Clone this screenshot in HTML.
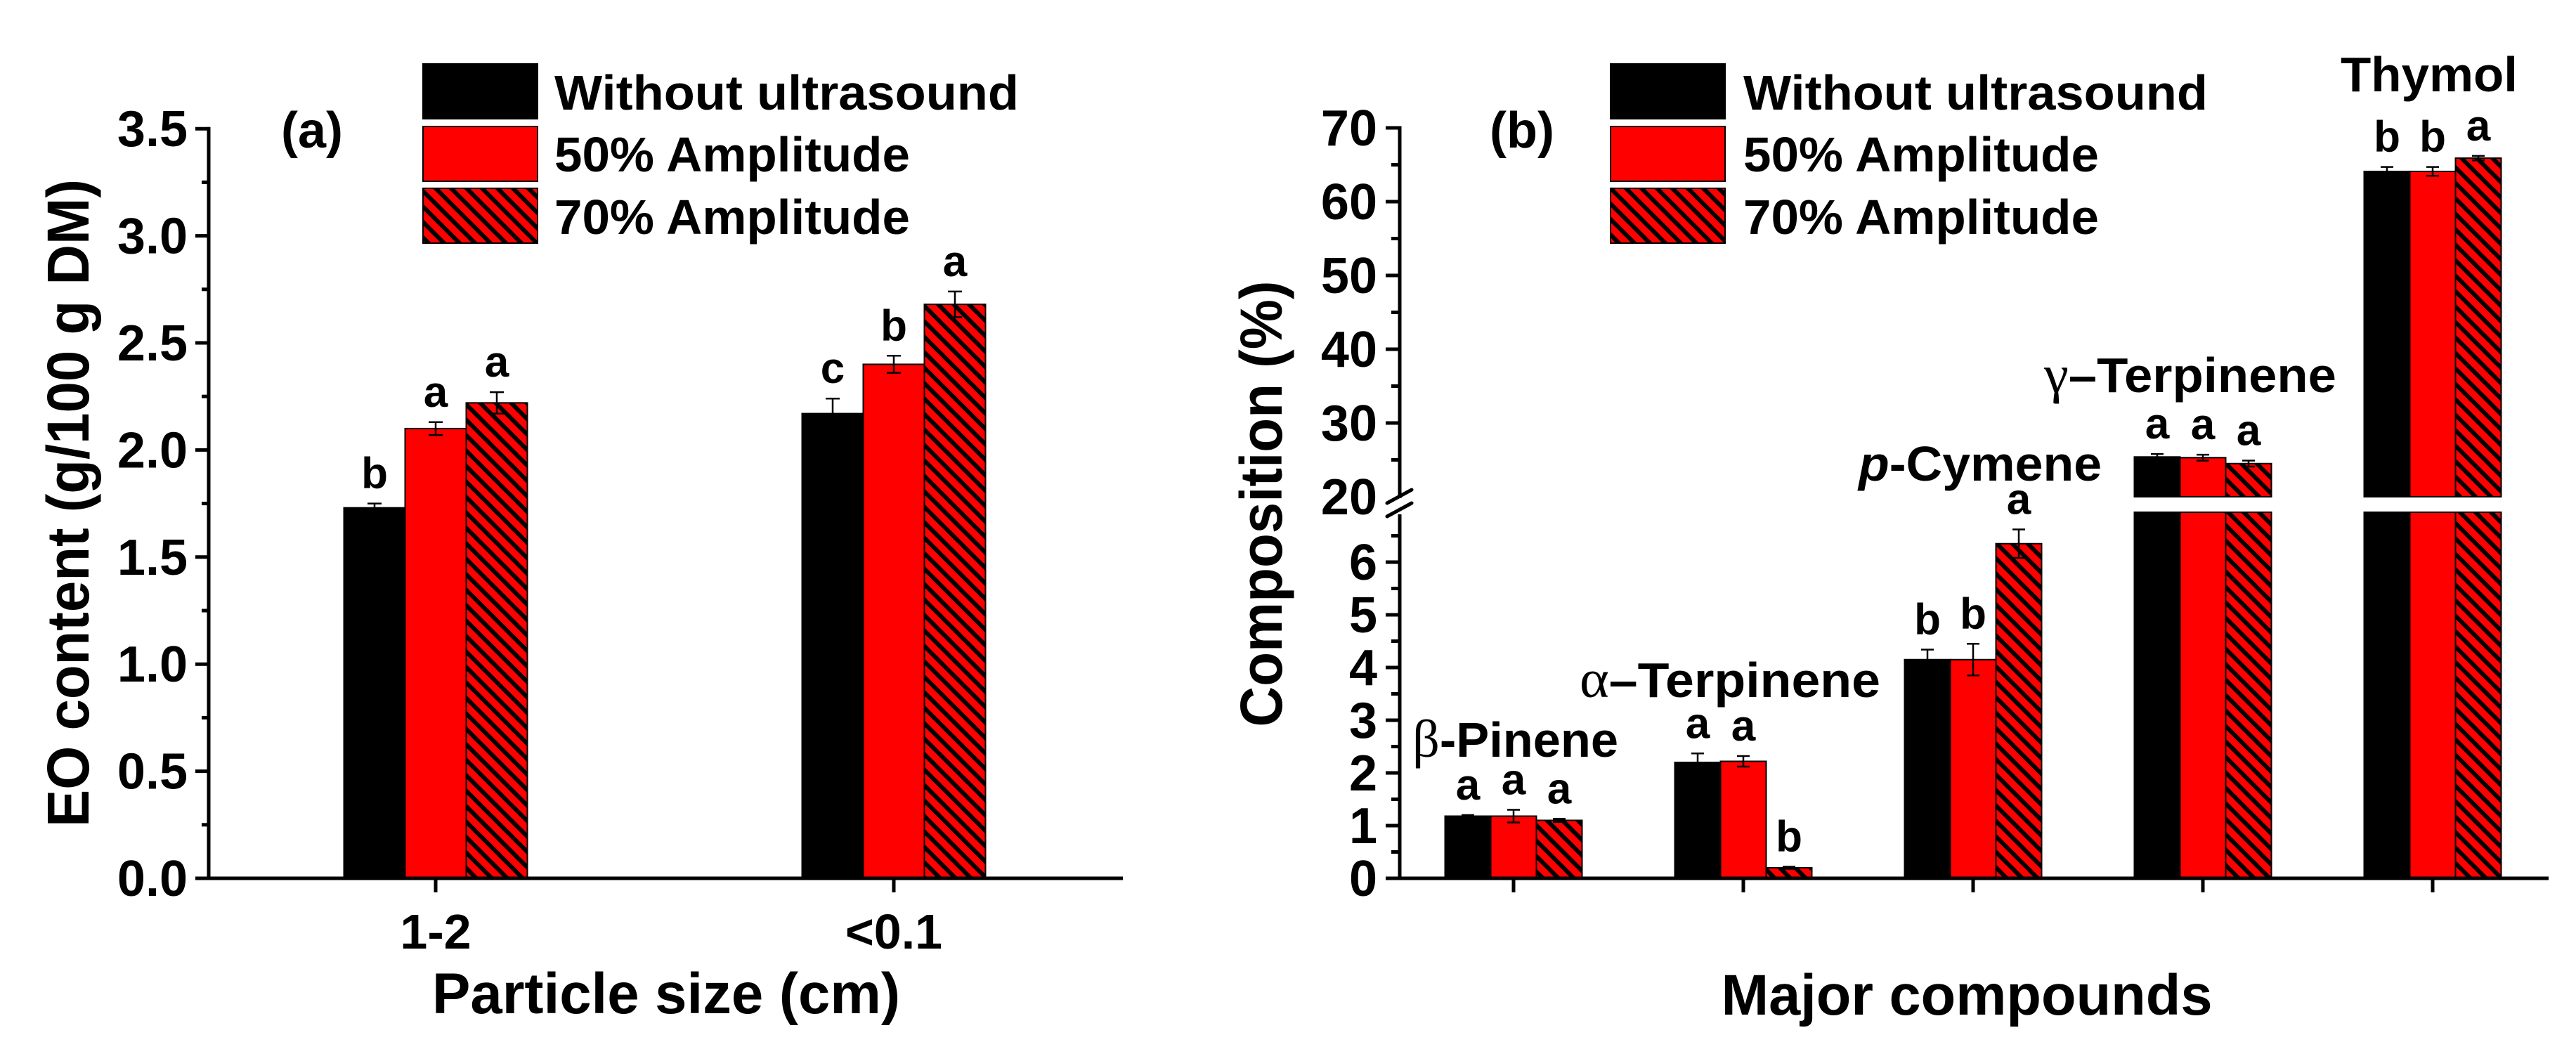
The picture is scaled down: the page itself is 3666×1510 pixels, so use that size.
<!DOCTYPE html>
<html><head><meta charset="utf-8"><style>
html,body{margin:0;padding:0;background:#fff;}
svg{display:block;font-family:"Liberation Sans",Arial,sans-serif;font-weight:bold;}
</style></head><body>
<svg id="chart" width="3666" height="1510" viewBox="0 0 3666 1510" xmlns="http://www.w3.org/2000/svg">
<defs>
<pattern id="hatch" patternUnits="userSpaceOnUse" width="22" height="22">
<rect width="22" height="22" fill="#ff0000"/>
<path d="M-5,-5 L27,27 M-5,17 L5,27 M17,-5 L27,5" stroke="#000" stroke-width="6"/>
</pattern>
</defs>
<g id="pa"></g>
<g id="pb"></g>
</svg>
<script>
// Panel A data
const aCategories = ["1-2", "<0.1"];
const aWithout = [1.73, 2.17];
const a50 = [2.10, 2.40];
const a70 = [2.22, 2.68];
const aWithoutErr = [0.02, 0.07];
const a50Err = [0.03, 0.04];
const a70Err = [0.05, 0.06];
const aWithoutLetters = ["b", "c"];
const a50Letters = ["a", "b"];
const a70Letters = ["a", "a"];
const aTicks = ["0.0","0.5","1.0","1.5","2.0","2.5","3.0","3.5"];

// Panel B data
const bCategories = ["β-Pinene", "α–Terpinene", "p-Cymene", "γ–Terpinene", "Thymol"];
const bWithout = [1.18, 2.20, 4.15, 25.4, 64.1];
const b50 = [1.18, 2.22, 4.15, 25.3, 64.1];
const b70 = [1.10, 0.20, 6.35, 24.5, 65.9];
const bWithoutErr = [0.02, 0.17, 0.19, 0.4, 0.6];
const b50Err = [0.12, 0.10, 0.30, 0.4, 0.6];
const b70Err = [0.03, 0.02, 0.27, 0.4, 0.3];
const bWithoutLetters = ["a","a","b","a","b"];
const b50Letters = ["a","a","b","a","b"];
const b70Letters = ["a","b","a","a","a"];
const bLowTicks = ["0","1","2","3","4","5","6"];
const bHighTicks = ["20","30","40","50","60","70"];

const NS = "http://www.w3.org/2000/svg";
function mk(parent, tag, attrs, text){
  const e = document.createElementNS(NS, tag);
  for (const k in attrs) e.setAttribute(k, attrs[k]);
  if (text !== undefined) e.textContent = text;
  parent.appendChild(e);
  return e;
}
const fills = ["#000000", "#ff0000", "url(#hatch)"];
const seriesNames = ["without-ultrasound", "amplitude-50", "amplitude-70"];

// ---------- Panel A ----------
const pa = document.getElementById("pa");
const aAxisX = 297, aBase = 1250;
function ya(v){ return aBase - v * 304.8; }
const aCenters = [620, 1272];
const aW = 87;
const aVals = [aWithout, a50, a70], aErrs = [aWithoutErr, a50Err, a70Err], aLets = [aWithoutLetters, a50Letters, a70Letters];
for (let g = 0; g < aCategories.length; g++){
  for (let s = 0; s < 3; s++){
    const x = aCenters[g] + (s - 1.5) * aW;
    const v = aVals[s][g], e = aErrs[s][g];
    const r = mk(pa, "rect", {x:x, y:ya(v), width:aW, height:aBase - ya(v), fill:fills[s], stroke:"#000", "stroke-width":2});
    
    
    const cx = x + aW/2;
    const eb = mk(pa, "path", {d:`M${cx},${ya(v+e)} V${ya(v-e)} M${cx-10},${ya(v+e)} H${cx+10} M${cx-10},${ya(v-e)} H${cx+10}`, stroke:"#000", "stroke-width":2.5, fill:"none"});
    
    
    const t = mk(pa, "text", {x:cx, y:ya(v+e) - 22, "text-anchor":"middle", "font-size":62}, aLets[s][g]);
    
    
  }
  const tk = mk(pa, "line", {x1:aCenters[g], x2:aCenters[g], y1:aBase, y2:aBase+20, stroke:"#000", "stroke-width":5});
  
  
  const tl = mk(pa, "text", {x:aCenters[g], y:1350, "text-anchor":"middle", "font-size":70}, aCategories[g]);
  
  
}
let ax = mk(pa, "line", {x1:aAxisX, x2:aAxisX, y1:ya(3.5)-2.5, y2:aBase+2.5, stroke:"#000", "stroke-width":5});
 
ax = mk(pa, "line", {x1:aAxisX-2.5, x2:1598, y1:aBase, y2:aBase, stroke:"#000", "stroke-width":5});
 
for (let i = 0; i < aTicks.length; i++){
  const v = parseFloat(aTicks[i]);
  const t1 = mk(pa, "line", {x1:278, x2:aAxisX, y1:ya(v), y2:ya(v), stroke:"#000", "stroke-width":5});
   
  const tl = mk(pa, "text", {x:267, y:ya(v)+25, "text-anchor":"end", "font-size":72}, aTicks[i]);
   
  if (i < aTicks.length - 1){
    const m = mk(pa, "line", {x1:287, x2:aAxisX, y1:ya(v+0.25), y2:ya(v+0.25), stroke:"#000", "stroke-width":5});
     
  }
}
let tt = mk(pa, "text", {x:0, y:0, "text-anchor":"middle", "font-size":84, transform:"translate(126,716) rotate(-90)", textLength:922, lengthAdjust:"spacingAndGlyphs"}, "EO content (g/100 g DM)");
 
tt = mk(pa, "text", {x:948, y:1442, "text-anchor":"middle", "font-size":82, textLength:666, lengthAdjust:"spacingAndGlyphs"}, "Particle size (cm)");
 
tt = mk(pa, "text", {x:400, y:210, "font-size":72}, "(a)");
 

function legend(parent, bx, tx, prefix){
  const labels = ["Without ultrasound", "50% Amplitude", "70% Amplitude"];
  const tops = [91, 180, 268];
  const bases = [156, 244, 333];
  for (let s = 0; s < 3; s++){
    const r = mk(parent, "rect", {x:bx, y:tops[s], width:163, height:78, fill:fills[s], stroke:"#000", "stroke-width":2});
    
    
    const lens = [661, 506, 506];
    const t = mk(parent, "text", {x:tx, y:bases[s], "font-size":70, textLength:lens[s], lengthAdjust:"spacingAndGlyphs"}, labels[s]);
    
    
  }
}
legend(pa, 602, 789, "a");

// ---------- Panel B ----------
const pb = document.getElementById("pb");
const bAxisX = 1992, bBase = 1250, lowMax = 6.95, brkLow = 729, brkHigh = 707;
function yb(v){ return v <= lowMax ? bBase - v * 75 : brkHigh - (v - 20) * 10.5; }
const bW = 65;
function bCenter(i){ return 2154 + i * 327; }
const bVals = [bWithout, b50, b70], bErrs = [bWithoutErr, b50Err, b70Err], bLets = [bWithoutLetters, b50Letters, b70Letters];
for (let g = 0; g < bCategories.length; g++){
  for (let s = 0; s < 3; s++){
    const x = bCenter(g) + (s - 1.5) * bW;
    const v = bVals[s][g], e = bErrs[s][g];
    const cx = x + bW/2;
    if (v <= lowMax){
      const r = mk(pb, "rect", {x:x, y:yb(v), width:bW, height:bBase - yb(v), fill:fills[s], stroke:"#000", "stroke-width":2});
      
      
    } else {
      const r1 = mk(pb, "rect", {x:x, y:brkLow, width:bW, height:bBase - brkLow, fill:fills[s], stroke:"#000", "stroke-width":2});
      
      
      const r2 = mk(pb, "rect", {x:x, y:yb(v), width:bW, height:brkHigh - yb(v), fill:fills[s], stroke:"#000", "stroke-width":2});
      
      
    }
    const eb = mk(pb, "path", {d:`M${cx},${yb(v+e)} V${yb(v-e)} M${cx-9},${yb(v+e)} H${cx+9} M${cx-9},${yb(v-e)} H${cx+9}`, stroke:"#000", "stroke-width":2.5, fill:"none"});
    
    
    const t = mk(pb, "text", {x:cx, y:yb(v+e) - 22, "text-anchor":"middle", "font-size":62}, bLets[s][g]);
    
    
  }
  const tk = mk(pb, "line", {x1:bCenter(g), x2:bCenter(g), y1:bBase, y2:bBase+20, stroke:"#000", "stroke-width":5});
  
  
}
const labPos = [[2010,1077,293],[2248,992,428],[2645,684,346],[2909,558,416],[3331,130,252]];
for (let g = 0; g < bCategories.length; g++){
  const p = labPos[g];
  const t = mk(pb, "text", {x:p[0], y:p[1], "font-size":70, textLength:p[2], lengthAdjust:"spacingAndGlyphs"});
  
  
  const name = bCategories[g];
  if (name.startsWith("p-")){
    mk(t, "tspan", {"font-style":"italic"}, "p");
    mk(t, "tspan", {}, name.slice(1));
  } else if (/^[αβγ]/.test(name)){
    mk(t, "tspan", {"font-weight":"normal", "font-family":"Liberation Serif, serif", "font-size":76}, name[0]);
    mk(t, "tspan", {}, name.slice(1));
  } else {
    t.textContent = name;
  }
}
ax = mk(pb, "line", {x1:bAxisX, x2:bAxisX, y1:brkLow+3, y2:bBase+2.5, stroke:"#000", "stroke-width":5});
 
ax = mk(pb, "line", {x1:bAxisX, x2:bAxisX, y1:yb(70)-2.5, y2:brkHigh+2, stroke:"#000", "stroke-width":5});
 
ax = mk(pb, "path", {d:"M1974,716 L2009,697 M1974,735 L2009,716", stroke:"#000", "stroke-width":5, "stroke-linecap":"round", fill:"none"});
 
ax = mk(pb, "line", {x1:bAxisX-2.5, x2:3627, y1:bBase, y2:bBase, stroke:"#000", "stroke-width":5});
 
for (let i = 0; i < bLowTicks.length; i++){
  const v = parseFloat(bLowTicks[i]);
  const t1 = mk(pb, "line", {x1:1972, x2:bAxisX, y1:yb(v), y2:yb(v), stroke:"#000", "stroke-width":5});
   
  const tl = mk(pb, "text", {x:1960, y:yb(v)+25, "text-anchor":"end", "font-size":72}, bLowTicks[i]);
   
  const m = mk(pb, "line", {x1:1980, x2:bAxisX, y1:yb(v+0.5), y2:yb(v+0.5), stroke:"#000", "stroke-width":5});
   
}
for (let i = 0; i < bHighTicks.length; i++){
  const v = parseFloat(bHighTicks[i]);
  if (i > 0){
    const t1 = mk(pb, "line", {x1:1972, x2:bAxisX, y1:yb(v), y2:yb(v), stroke:"#000", "stroke-width":5});
     
  }
  const tl = mk(pb, "text", {x:1960, y:yb(v)+25, "text-anchor":"end", "font-size":72}, bHighTicks[i]);
   
  if (i < bHighTicks.length - 1){
    const m = mk(pb, "line", {x1:1980, x2:bAxisX, y1:yb(v+5), y2:yb(v+5), stroke:"#000", "stroke-width":5});
     
  }
}
tt = mk(pb, "text", {x:0, y:0, "text-anchor":"middle", "font-size":84, transform:"translate(1824,717) rotate(-90)", textLength:635, lengthAdjust:"spacingAndGlyphs"}, "Composition (%)");
 
tt = mk(pb, "text", {x:2799, y:1444, "text-anchor":"middle", "font-size":82, textLength:699, lengthAdjust:"spacingAndGlyphs"}, "Major compounds");
 
tt = mk(pb, "text", {x:2120, y:210, "font-size":72}, "(b)");
 
legend(pb, 2292, 2481, "b");
</script>
</body></html>
